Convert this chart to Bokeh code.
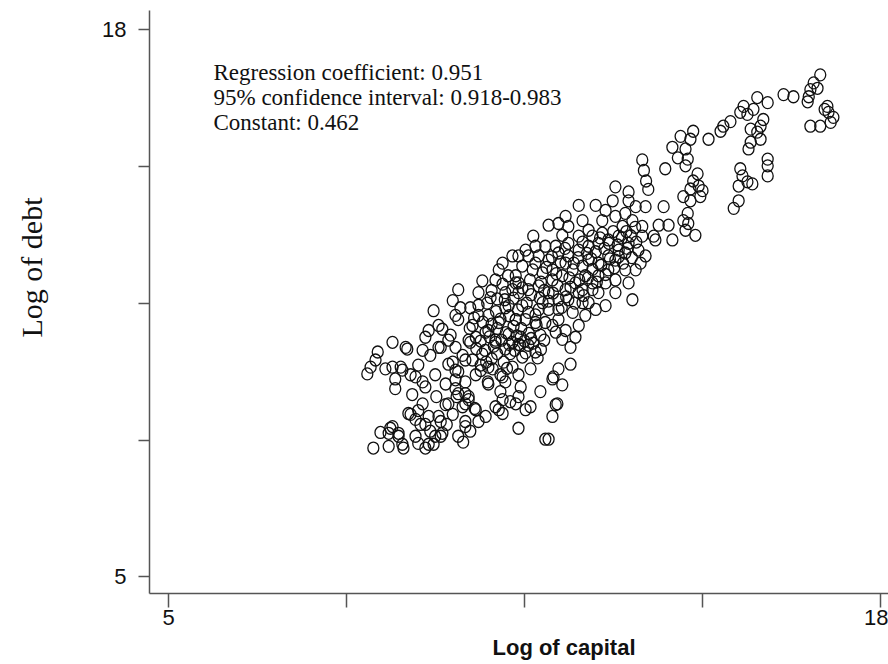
import math
from bokeh.plotting import figure
from bokeh.layouts import row
from bokeh.models import FixedTicker, Label, Range1d, ColumnDataSource, Title
from bokeh.embed import file_html
from bokeh.resources import INLINE

# ---------------- data ----------------
x_ticks = [5, 8.25, 11.5, 14.75, 18]
y_ticks = [5, 8.25, 11.5, 14.75, 18]
hidden_tick_labels = {8.25: "", 11.5: "", 14.75: ""}

x_title = "Log of capital"
y_title = "Log of debt"
stats_lines = [
    "Regression coefficient: 0.951",
    "95% confidence interval: 0.918-0.983",
    "Constant: 0.462",
]

# lower-left tail of the cloud  (log capital, log debt)
tail_pts = [
    (8.74, 8.06), (9.02, 8.10), (9.29, 8.06), (8.87, 8.43), (9.05, 8.53), (9.20, 8.34),
    (9.42, 8.86), (9.56, 8.95), (9.75, 8.81), (9.60, 8.62), (9.84, 8.15), (9.69, 8.06),
    (9.97, 8.34), (10.08, 8.62), (10.19, 8.86), (10.37, 9.04), (10.48, 9.28), (10.42, 8.69),
    (10.51, 8.46), (10.66, 8.69), (10.26, 9.28), (10.06, 9.09), (9.89, 9.28), (10.59, 9.00),
    (10.79, 8.81), (10.97, 9.04), (11.06, 9.40), (11.24, 9.16), (11.39, 8.53), (11.88, 8.27),
    (12.01, 8.81), (12.07, 9.09), (12.01, 9.70), (12.12, 9.94), (11.61, 9.04), (11.79, 9.40),
    (11.43, 9.51), (11.15, 9.63), (9.51, 8.34), (10.29, 8.34), (10.38, 8.20), (9.97, 8.69),
    (9.78, 8.46), (9.38, 8.88), (9.51, 8.74), (9.69, 8.62), (9.93, 8.81), (10.00, 8.41),
    (9.87, 8.34), (10.42, 8.57), (11.03, 8.97), (11.10, 8.88), (9.09, 8.57), (9.02, 8.41),
    (9.20, 8.41), (9.27, 8.15), (9.56, 8.17), (9.75, 8.15), (10.42, 9.11), (10.61, 8.97),
    (10.11, 9.11), (9.64, 9.11), (11.10, 9.21), (11.34, 9.11), (11.39, 9.28), (11.52, 8.97),
    (11.94, 8.27), (12.10, 9.11), (12.03, 9.75), (12.19, 9.56),
]

# left upper group
left_pts = [
    (9.09, 10.57), (8.82, 10.34), (8.78, 10.15), (8.63, 9.82), (9.36, 10.41), (9.64, 10.38),
    (9.09, 9.98), (9.27, 9.91), (9.14, 9.70), (9.14, 9.47), (9.51, 9.75), (9.69, 9.51),
    (9.87, 9.80), (10.06, 9.58), (9.93, 10.45), (10.24, 10.45), (10.11, 10.62), (10.48, 10.62),
    (9.75, 10.85), (10.00, 10.88), (10.42, 9.35), (10.29, 9.35), (10.48, 9.21), (10.55, 10.15),
    (10.73, 10.29), (10.84, 9.98), (11.10, 9.75), (11.28, 9.98), (10.84, 9.58), (10.42, 10.15),
    (10.24, 9.91), (10.24, 9.68), (10.11, 10.05), (10.97, 10.62), (11.21, 10.76), (11.39, 10.52),
    (10.84, 10.85), (10.61, 10.69), (8.69, 9.98), (8.96, 9.94), (9.33, 10.45), (9.24, 9.98),
    (9.42, 9.80), (9.56, 10.03), (9.64, 9.63), (9.45, 9.33), (9.78, 10.26), (9.97, 10.45),
    (10.19, 10.10), (10.29, 9.87), (10.37, 10.26), (10.51, 10.57), (10.42, 9.63), (10.61, 9.80),
    (10.70, 10.03), (10.24, 9.47), (10.83, 9.63), (10.92, 9.94), (11.06, 9.80), (9.69, 10.69),
    (9.93, 10.97), (10.24, 11.21), (10.33, 11.39), (10.15, 10.74),
]

# main diagonal band
band_pts = [
    (11.28, 12.62), (11.03, 12.29), (10.73, 12.03), (10.97, 12.05), (10.29, 11.82), (10.19, 11.56),
    (10.51, 11.39), (9.84, 11.32), (10.29, 11.11), (10.84, 11.21), (10.66, 11.75), (11.15, 11.75),
    (11.21, 11.44), (11.34, 11.11), (11.03, 11.04), (10.55, 10.97), (11.34, 11.98), (11.10, 12.45),
    (11.94, 13.35), (12.12, 13.39), (12.25, 13.56), (12.19, 13.11), (11.66, 13.09), (12.49, 13.82),
    (12.80, 13.82), (13.11, 13.93), (13.40, 13.93), (13.53, 13.79), (13.71, 13.79), (14.04, 13.79),
    (13.95, 13.35), (14.13, 13.35), (14.20, 13.00), (13.86, 13.09), (14.40, 13.46), (12.56, 13.46),
    (12.67, 13.23), (12.92, 13.46), (13.16, 13.56), (13.29, 13.32), (13.47, 13.46), (13.65, 13.09),
    (13.58, 12.76), (13.71, 12.62), (13.53, 12.29), (13.40, 11.98), (13.47, 11.58), (12.98, 11.44),
    (13.16, 11.75), (12.85, 11.75), (12.56, 11.51), (12.38, 11.28), (12.12, 11.11), (12.01, 10.97),
    (11.70, 11.04), (11.52, 11.11), (11.46, 11.44), (11.39, 11.75), (11.57, 11.82), (11.76, 11.91),
    (11.94, 11.75), (11.83, 11.51), (12.12, 11.58), (12.25, 11.82), (12.43, 11.98), (12.61, 12.15),
    (12.74, 11.82), (12.85, 12.15), (13.03, 12.29), (13.16, 12.52), (13.34, 12.69), (13.03, 12.62),
    (12.85, 12.45), (12.67, 12.52), (12.56, 12.38), (12.38, 12.29), (12.19, 12.15), (12.01, 12.05),
    (11.83, 12.22), (11.65, 12.29), (11.46, 12.38), (11.57, 12.62), (11.76, 12.62), (11.94, 12.52),
    (12.12, 12.69), (12.30, 12.62), (12.49, 12.76), (12.67, 12.85), (12.85, 12.92), (13.03, 13.00),
    (13.22, 13.09), (13.40, 12.92), (13.22, 12.76), (12.30, 12.92), (12.49, 13.09), (12.74, 13.09),
    (12.92, 13.16), (12.07, 12.85), (11.88, 12.85), (11.70, 12.85), (11.52, 12.76), (11.39, 12.62),
    (11.34, 12.15), (11.39, 11.98), (11.76, 11.35), (11.57, 11.28), (11.34, 11.11), (11.94, 11.35),
    (12.12, 11.35), (12.30, 11.58), (12.49, 11.75), (12.67, 11.51), (13.16, 12.05), (13.34, 12.29),
    (12.98, 11.98), (12.74, 11.98), (12.56, 11.82), (12.25, 12.45), (12.01, 12.29), (13.89, 13.00),
    (13.65, 13.32), (13.34, 13.63), (12.98, 13.70), (12.30, 13.32), (11.43, 10.69), (11.57, 10.50),
    (11.70, 10.34), (11.46, 10.22), (11.61, 9.94), (11.39, 9.80), (11.79, 10.74), (11.88, 11.04),
    (12.07, 10.81), (12.19, 10.64), (12.34, 10.45), (12.43, 10.69), (12.25, 10.85), (12.49, 10.97),
    (12.61, 11.21), (12.80, 11.35), (10.66, 11.21), (10.88, 11.63), (11.15, 11.39), (10.79, 10.81),
    (10.97, 10.57), (11.15, 10.41), (11.28, 10.57), (12.34, 10.05), (13.16, 14.26), (13.40, 14.14),
]

# dense core of the band (overlapping circles)
core_pts = [
    (10.62, 10.42), (10.70, 10.60), (10.78, 10.38), (10.86, 10.70), (10.94, 10.48), (11.00, 10.90),
    (11.08, 10.62), (11.16, 10.80), (11.24, 10.30), (11.30, 10.95), (11.36, 10.72), (11.44, 10.90),
    (11.50, 10.60), (11.58, 10.78), (11.66, 10.55), (11.72, 10.98), (11.80, 10.40), (11.86, 10.62),
    (10.90, 11.00), (10.98, 11.30), (11.06, 11.12), (11.14, 11.58), (11.22, 11.20), (11.30, 11.62),
    (11.38, 11.34), (11.46, 11.86), (11.54, 11.50), (11.62, 11.70), (11.70, 11.22), (11.78, 11.62),
    (11.86, 11.80), (11.94, 11.55), (12.02, 11.74), (12.10, 11.92), (12.18, 11.40), (12.26, 11.65),
    (12.34, 11.88), (12.42, 11.50), (12.50, 12.05), (12.58, 11.68), (12.66, 12.10), (12.74, 12.30),
    (12.82, 12.00), (12.90, 12.40), (12.98, 12.18), (13.06, 12.55), (13.14, 12.34), (13.22, 12.60),
    (13.30, 12.45), (13.38, 12.80), (13.46, 12.58), (13.54, 12.95), (13.62, 12.45), (11.60, 12.05),
    (11.70, 12.45), (11.80, 12.00), (11.90, 12.35), (12.00, 12.60), (12.08, 12.20), (12.16, 12.48),
    (12.24, 12.80), (12.32, 12.10), (12.40, 12.45), (12.48, 12.58), (12.56, 12.95), (12.64, 12.68),
    (12.72, 12.55), (12.80, 12.72), (12.88, 13.05), (12.96, 12.80), (13.04, 12.92), (13.12, 13.20),
    (13.20, 12.88), (13.28, 13.05), (13.36, 13.20), (13.44, 13.10), (13.52, 13.30), (10.50, 10.90),
    (10.58, 11.15), (10.66, 11.45), (10.74, 11.05), (10.82, 11.50), (10.90, 11.80), (11.00, 11.60),
    (11.10, 11.95), (11.20, 12.15), (11.28, 11.82), (10.90, 10.18), (11.00, 10.30), (11.12, 10.10),
    (11.22, 10.52), (11.32, 10.38), (11.42, 10.50), (11.52, 10.32), (11.62, 10.66), (11.74, 10.20),
    (10.80, 10.10), (10.70, 9.90), (11.18, 9.95),
]

# upper right arm of the cloud
upper_pts = [
    (16.90, 16.92), (16.78, 16.73), (16.72, 16.57), (16.69, 16.40), (16.67, 16.28), (16.41, 16.40),
    (16.23, 16.45), (17.03, 16.17), (17.05, 16.03), (17.14, 15.91), (17.09, 15.79), (16.90, 15.70),
    (16.72, 15.70), (15.75, 16.38), (15.94, 16.26), (15.50, 16.17), (15.44, 16.03), (15.57, 15.98),
    (15.68, 16.10), (15.86, 15.86), (15.81, 15.70), (15.26, 15.81), (15.13, 15.70), (15.08, 15.58),
    (14.86, 15.39), (15.63, 15.63), (15.75, 15.56), (15.63, 15.32), (15.81, 15.39), (15.59, 15.16),
    (15.94, 14.92), (15.94, 14.76), (15.94, 14.52), (15.44, 14.69), (15.48, 14.52), (15.57, 14.38),
    (15.66, 14.33), (15.41, 14.28), (14.58, 15.58), (14.53, 15.39), (14.44, 15.16), (14.48, 14.92),
    (14.44, 14.76), (14.66, 14.57), (14.58, 14.40), (14.68, 14.28), (14.53, 14.21), (14.75, 14.17),
    (14.35, 15.46), (14.53, 13.93), (14.48, 13.63), (14.49, 13.39), (14.44, 13.23), (14.62, 13.11),
    (15.32, 13.75), (15.41, 13.93), (14.71, 14.03), (14.40, 14.03), (13.65, 14.90), (13.68, 14.65),
    (13.72, 14.40), (13.76, 14.20), (14.20, 15.20), (14.30, 14.95), (14.07, 14.69), (16.85, 16.60),
    (16.98, 16.10),
]

all_pts = tail_pts + left_pts + band_pts + core_pts + upper_pts
log_capital = [pt[0] for pt in all_pts]
log_debt = [pt[1] for pt in all_pts]

# ---------------- narrow strip holding the y-axis title ----------------
LABEL_W = 60
lab = figure(width=LABEL_W, height=664, output_backend="svg", toolbar_location=None,
             x_axis_type=None, y_axis_type=None, min_border=0,
             x_range=Range1d(0, 1), y_range=Range1d(0, 1))
lab.outline_line_color = None
lab.background_fill_color = "white"
lab.border_fill_color = "white"
lab.add_layout(Label(x=31, y=326, x_units="screen", y_units="screen", text=y_title,
                     angle=math.pi / 2, text_align="center", text_baseline="middle",
                     text_font="Liberation Serif", text_font_size="30px", text_color="#111111"))

# ---------------- main figure ----------------
p = figure(width=888 - LABEL_W, height=664, output_backend="svg", toolbar_location=None,
           x_range=Range1d(4.653, 18.146), y_range=Range1d(4.607, 18.447),
           min_border_left=149 - LABEL_W, min_border_right=0, min_border_top=10,
           min_border_bottom=65)
p.outline_line_color = None
p.grid.visible = False
p.background_fill_color = "white"
p.border_fill_color = "white"

src = ColumnDataSource(dict(x=log_capital, y=log_debt))
p.ellipse(x="x", y="y", width=11, height=12, width_units="screen", height_units="screen",
          fill_color=None, line_color="#111111", line_width=1.3, source=src)

p.xaxis.ticker = FixedTicker(ticks=x_ticks)
p.yaxis.ticker = FixedTicker(ticks=y_ticks)
for ax in (p.xaxis[0], p.yaxis[0]):
    ax.axis_line_color = "#555555"
    ax.axis_line_width = 1.5
    ax.major_tick_line_color = "#555555"
    ax.major_tick_line_width = 1.5
    ax.major_tick_in = 0
    ax.minor_tick_line_color = None
    ax.major_label_text_font = "Liberation Sans"
    ax.major_label_text_font_size = "22px"
    ax.major_label_text_color = "#111111"
    ax.major_label_overrides = hidden_tick_labels
p.xaxis.major_tick_out = 14
p.xaxis.major_label_standoff = 2
p.yaxis.major_tick_out = 11
p.yaxis.major_label_standoff = 12

p.add_layout(Title(text=x_title, align="left", offset=343, text_font="Liberation Sans",
                   text_font_size="22px", text_font_style="bold", text_color="#111111"), "below")

for i, line in enumerate(stats_lines):
    p.add_layout(Label(x=64, y=521 - 25 * i, x_units="screen", y_units="screen", text=line,
                       text_align="left", text_baseline="alphabetic",
                       text_font="Liberation Serif", text_font_size="23px", text_color="#111111"))

page = row(lab, p, spacing=0)
open("out.html", "w").write(file_html(page, INLINE))
